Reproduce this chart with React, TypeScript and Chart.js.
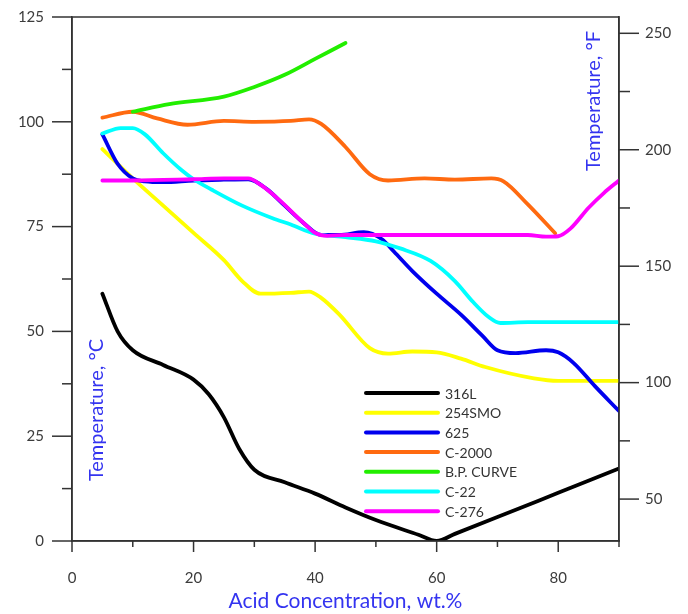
import { useEffect, useRef } from "react";
import { Chart, registerables } from "chart.js";

Chart.register(...registerables);

// Axis ticks
const xTicks = [0, 10, 20, 30, 40, 50, 60, 70, 80, 90];
const cTicks = [0, 12.5, 25, 37.5, 50, 62.5, 75, 87.5, 100, 112.5, 125];
const fTicks = [50, 75, 100, 125, 150, 175, 200, 225, 250];

// Series data (x = acid concentration wt.%, y = temperature °C)
const x316L = [5, 7.5, 10, 15, 20, 22.5, 25, 27.5, 30, 35, 40, 45, 50, 57, 60, 63, 70, 80, 90];
const y316L = [59, 50, 45.5, 42, 38.5, 35, 29.5, 22, 17, 14, 11.3, 8, 5, 1.5, 0, 1.7, 5.7, 11.5, 17.3];

const x254 = [5, 10, 15, 20, 25, 28, 31, 36, 39, 41, 44, 49, 52, 56, 60, 64, 68, 76, 80, 90];
const y254 = [93.5, 86.5, 80, 73.5, 67, 62, 59, 59.2, 59.5, 58, 54, 46, 44.7, 45.2, 45, 43.5, 41.5, 38.8, 38.2, 38.2];

const x625 = [5, 7.5, 10, 12, 15, 20, 25, 29, 32, 35, 38, 41, 44, 48, 51, 53, 56, 60, 64, 67.5, 70, 73, 78, 80, 82.5, 86, 90];
const y625 = [97, 90, 86.5, 85.8, 85.6, 86, 86.2, 86.3, 84, 80, 76, 73, 73, 73.7, 72, 69, 64.4, 59, 54, 49, 45.5, 44.8, 45.5, 45, 42.5, 37, 31];

const xC2000 = [5, 10, 14, 19, 25, 30, 36, 39, 41, 45, 49, 52, 58, 63, 69, 71, 75, 79.5];
const yC2000 = [101, 102.4, 100.8, 99.3, 100.2, 100, 100.2, 100.6, 99.5, 94, 87.5, 86, 86.5, 86.2, 86.5, 85.8, 80.3, 73.4];

const xBP = [10, 16, 25, 30, 35, 40, 45];
const yBP = [102.4, 104.2, 106, 108.3, 111.2, 115, 118.8];

const xC22 = [5, 8, 10, 12, 15, 18, 20, 23, 28, 33, 36, 40, 45, 50, 54, 59, 63, 66, 68.5, 70.5, 75, 90];
const yC22 = [97.2, 98.5, 98.5, 97, 92.5, 88.5, 86.3, 83.8, 80, 77, 75.5, 73.3, 72.5, 71.5, 69.8, 66.8, 62, 57, 53.5, 52, 52.2, 52.2];

const xC276 = [5, 10, 20, 25, 29, 31, 34, 38, 40, 42, 45, 50, 60, 70, 75, 78, 80, 82, 85, 87.5, 90];
const yC276 = [86, 86, 86.3, 86.5, 86.5, 85, 81.5, 76, 73.5, 72.8, 73, 73, 73, 73, 73, 72.6, 72.7, 74.5, 79.5, 83, 86];

const labels = ["316L", "254SMO", "625", "C-2000", "B.P. CURVE", "C-22", "C-276"];
const xSeries = [x316L, x254, x625, xC2000, xBP, xC22, xC276];
const ySeries = [y316L, y254, y625, yC2000, yBP, yC22, yC276];
const colors = ["#000000", "#ffff00", "#0000ee", "#ff6a10", "#22ee00", "#00ffff", "#ff00ff"];

const TITLE_COLOR = "#3434f0";
const TICK_COLOR = "#3c3c3c";
const AXIS_COLOR = "#333333";
const FONT = "Lato, 'Open Sans', sans-serif";

const decorPlugin = {
  id: "decor",
  afterDraw(chart: any) {
    const ctx = chart.ctx;
    const { left, right, top, bottom } = chart.chartArea;
    ctx.save();
    ctx.strokeStyle = AXIS_COLOR;
    ctx.lineWidth = 1.5;
    ctx.strokeRect(left, top, right - left, bottom - top);
    const line = (x1: number, y1: number, x2: number, y2: number) => {
      ctx.beginPath();
      ctx.moveTo(x1, y1);
      ctx.lineTo(x2, y2);
      ctx.stroke();
    };
    const xs = chart.scales.x;
    xTicks.forEach((v) => {
      const px = xs.getPixelForValue(v);
      line(px, bottom, px, bottom + (v % 20 === 0 ? 11 : 6));
    });
    const ys = chart.scales.y;
    cTicks.forEach((v) => {
      const py = ys.getPixelForValue(v);
      line(left - (v % 25 === 0 ? 20 : 10), py, left, py);
    });
    const y2 = chart.scales.y2;
    fTicks.forEach((v) => {
      const py = y2.getPixelForValue(v);
      line(right, py, right + (v % 50 === 0 ? 20 : 11), py);
    });

    // rotated axis titles inside plot
    ctx.fillStyle = TITLE_COLOR;
    ctx.font = `20px ${FONT}`;
    ctx.textAlign = "center";
    ctx.textBaseline = "middle";
    ctx.save();
    ctx.translate(left + 25, bottom - 131);
    ctx.rotate(-Math.PI / 2);
    ctx.fillText("Temperature, °C", 0, 0);
    ctx.restore();
    ctx.save();
    ctx.translate(right - 25, top + 84);
    ctx.rotate(-Math.PI / 2);
    ctx.fillText("Temperature, °F", 0, 0);
    ctx.restore();

    // legend
    const lx = left + 294;
    const ly = top + 376;
    ctx.font = `14px ${FONT}`;
    ctx.textAlign = "left";
    chart.data.datasets.forEach((ds: any, i: number) => {
      const y = ly + i * 19.7;
      ctx.strokeStyle = ds.borderColor;
      ctx.lineWidth = 4;
      ctx.lineCap = "round";
      line(lx, y, lx + 72, y);
      ctx.fillStyle = "#333333";
      ctx.fillText(ds.label, lx + 79, y + 1);
    });
    ctx.restore();
  },
};

export default function App() {
  const ref = useRef<HTMLCanvasElement | null>(null);
  useEffect(() => {
    if (!ref.current) return;
    const datasets = labels.map((label, i) => ({
      label,
      data: xSeries[i].map((x, j) => ({ x, y: ySeries[i][j] })),
      borderColor: colors[i],
      backgroundColor: colors[i],
      borderWidth: 3.8,
      pointRadius: 0,
      fill: false,
      cubicInterpolationMode: "monotone" as const,
      borderCapStyle: "round" as const,
      borderJoinStyle: "round" as const,
      order: labels.length - i,
      yAxisID: "y",
    }));
    const chart = new Chart(ref.current, {
      type: "line",
      data: { datasets },
      options: {
        animation: false,
        responsive: false,
        layout: { padding: { top: 14, left: 0, right: 0, bottom: 0 } },
        plugins: { legend: { display: false }, tooltip: { enabled: false } },
        scales: {
          x: {
            type: "linear",
            position: "bottom",
            min: 0,
            max: 90,
            afterBuildTicks: (s: any) => {
              s.ticks = xTicks.map((v) => ({ value: v }));
            },
            afterFit: (s: any) => {
              s.height = 73;
            },
            grid: { drawOnChartArea: false, drawTicks: true, tickLength: 12, tickColor: "rgba(0,0,0,0)" },
            border: { color: AXIS_COLOR, width: 1.5 },
            ticks: {
              callback: (v: any) => (Number(v) % 20 === 0 ? String(v) : ""),
              padding: 16,
              color: TICK_COLOR,
              font: { family: FONT, size: 15 },
              maxRotation: 0,
              autoSkip: false,
            },
            title: {
              display: true,
              text: "Acid Concentration, wt.%",
              color: TITLE_COLOR,
              font: { family: FONT, size: 21 },
              padding: { top: 0, bottom: 0 },
            },
          },
          y: {
            type: "linear",
            position: "left",
            min: 0,
            max: 125,
            afterBuildTicks: (s: any) => {
              s.ticks = cTicks.map((v) => ({ value: v }));
            },
            afterFit: (s: any) => {
              s.width = 72;
            },
            grid: { drawOnChartArea: false, drawTicks: true, tickLength: 20, tickColor: "rgba(0,0,0,0)" },
            border: { color: AXIS_COLOR, width: 1.5 },
            ticks: {
              callback: (v: any) => (Number(v) % 25 === 0 ? String(v) : ""),
              padding: 8,
              color: TICK_COLOR,
              font: { family: FONT, size: 15 },
              autoSkip: false,
            },
          },
          y2: {
            type: "linear",
            position: "right",
            min: 32,
            max: 257,
            afterBuildTicks: (s: any) => {
              s.ticks = fTicks.map((v) => ({ value: v }));
            },
            afterFit: (s: any) => {
              s.width = 69;
            },
            grid: { drawOnChartArea: false, drawTicks: true, tickLength: 20, tickColor: "rgba(0,0,0,0)" },
            border: { color: AXIS_COLOR, width: 1.5 },
            ticks: {
              callback: (v: any) => (Number(v) % 50 === 0 ? String(v) : ""),
              padding: 6,
              color: TICK_COLOR,
              font: { family: FONT, size: 15 },
              autoSkip: false,
            },
          },
        },
      },
      plugins: [decorPlugin],
    });
    return () => chart.destroy();
  }, []);
  return (
    <div style={{ position: "fixed", left: 0, top: 0, width: 688, height: 614, background: "#fff" }}>
      <canvas ref={ref} width={688} height={614} />
    </div>
  );
}
